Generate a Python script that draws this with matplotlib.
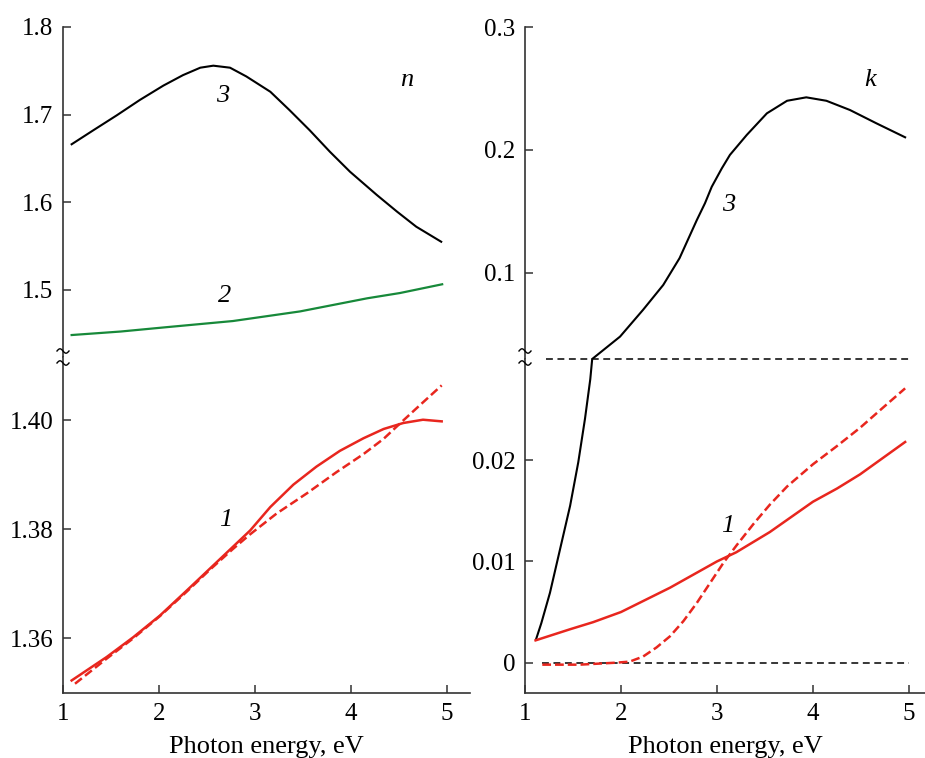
import numpy as np
import matplotlib
matplotlib.use("Agg")
import matplotlib.pyplot as plt
from matplotlib.lines import Line2D

plt.rcParams["font.family"] = ["Liberation Serif", "DejaVu Serif"]

RED = "#e8261e"
GREEN = "#17893a"
SPINE = "#333333"

# ---- refractive index n ----
n3_e = [1.09, 1.316, 1.559, 1.80, 2.045, 2.25, 2.43, 2.566, 2.74, 2.91, 3.16, 3.36, 3.57,
        3.78, 3.99, 4.27, 4.48, 4.68, 4.94]
n3_v = [1.666, 1.682, 1.699, 1.7166, 1.733, 1.745, 1.7535, 1.7558, 1.7535, 1.7435, 1.726,
        1.705, 1.682, 1.6575, 1.6346, 1.608, 1.589, 1.5718, 1.5546]

n2_e = [1.09, 1.6, 2.08, 2.77, 3.47, 4.17, 4.51, 4.95]
n2_v = [1.448, 1.452, 1.457, 1.464, 1.475, 1.490, 1.496, 1.506]

n1_e = [1.09, 1.455, 1.73, 2.01, 2.29, 2.53, 2.77, 2.95, 3.16, 3.40, 3.64, 3.885, 4.13, 4.34,
        4.545, 4.75, 4.945]
n1_v = [1.3523, 1.3566, 1.3602, 1.3642, 1.3688, 1.3728, 1.3768, 1.3798, 1.3841, 1.3882, 1.3915,
        1.3944, 1.3967, 1.3984, 1.3995, 1.4001, 1.3998]

n1d_e = [1.125, 1.455, 1.73, 2.01, 2.29, 2.53, 2.77, 2.95, 3.225, 3.54, 3.85, 4.13, 4.34, 4.51,
         4.72, 4.945]
n1d_v = [1.3517, 1.3563, 1.3600, 1.3641, 1.3686, 1.3726, 1.3764, 1.3791, 1.3829, 1.3866, 1.3905,
         1.3938, 1.3966, 1.3994, 1.4028, 1.4064]

# ---- extinction coefficient k ----
k3_e = [1.115, 1.17, 1.26, 1.365, 1.47, 1.555, 1.625, 1.68, 1.70, 1.99, 2.23, 2.44, 2.61, 2.79,
        2.875, 2.945, 3.05, 3.135, 3.31, 3.52, 3.73, 3.93, 4.14, 4.385, 4.66, 4.96]
k3_v = [0.0023, 0.0039, 0.0069, 0.0112, 0.0155, 0.0198, 0.0241, 0.028, 0.030, 0.0482, 0.070,
        0.0902, 0.112, 0.143, 0.1567, 0.170, 0.185, 0.196, 0.2122, 0.2298, 0.240, 0.2428, 0.240,
        0.2325, 0.2217, 0.2103]

k1_e = [1.11, 1.47, 1.71, 2.0, 2.51, 3.0, 3.2, 3.55, 4.0, 4.25, 4.49, 4.96]
k1_v = [0.0022, 0.0033, 0.0040, 0.0050, 0.0074, 0.0100, 0.0109, 0.0129, 0.0159, 0.0172, 0.0186,
        0.0218]

k1d_e = [1.18, 1.57, 1.955, 2.09, 2.23, 2.37, 2.51, 2.65, 2.79, 2.93, 3.07, 3.205, 3.38, 3.55,
         3.73, 4.0, 4.25, 4.49, 4.73, 4.96]
k1d_v = [-0.0002, -0.0002, 0.0, 0.0001, 0.0006, 0.0015, 0.0026, 0.0041, 0.0059, 0.0079, 0.0099,
         0.0116, 0.0137, 0.0156, 0.0174, 0.0196, 0.0214, 0.0232, 0.0252, 0.0271]

x_ticks = [1, 2, 3, 4, 5]
n_up_ticks = [1.5, 1.6, 1.7, 1.8]
n_up_labels = ["1.5", "1.6", "1.7", "1.8"]
n_lo_ticks = [1.36, 1.38, 1.40]
n_lo_labels = ["1.36", "1.38", "1.40"]
k_up_ticks = [0.1, 0.2, 0.3]
k_up_labels = ["0.1", "0.2", "0.3"]
k_lo_ticks = [0, 0.01, 0.02]
k_lo_labels = ["0", "0.01", "0.02"]

W, H = 925, 758
fig = plt.figure(figsize=(W / 100, H / 100), dpi=100)


def box(x0, x1, y0, y1):
    # pixel box (top-left origin) -> figure fraction
    return [x0 / W, 1 - y1 / H, (x1 - x0) / W, (y1 - y0) / H]


axLU = fig.add_axes(box(63, 470, 27, 357))
axLL = fig.add_axes(box(63, 470, 357, 693))
axRU = fig.add_axes(box(525, 925, 27, 359))
axRL = fig.add_axes(box(525, 925, 359, 693))

for ax in (axLU, axLL, axRU, axRL):
    ax.spines["top"].set_visible(False)
    ax.spines["right"].set_visible(False)
    for s in ("left", "bottom"):
        ax.spines[s].set_color(SPINE)
        ax.spines[s].set_linewidth(1.2)
    ax.tick_params(direction="in", length=6, width=1.1, color=SPINE,
                   labelsize=18, pad=7)

for ax in (axLU, axRU):
    ax.spines["bottom"].set_visible(False)
    ax.tick_params(axis="x", bottom=False, labelbottom=False)

axLU.set_xlim(1, 5.24)
axLL.set_xlim(1, 5.24)
axRU.set_xlim(1, 5.167)
axRL.set_xlim(1, 5.167)

axLU.set_ylim(1.4229, 1.8)
axLL.set_ylim(1.35, 1.4116)
axRU.set_ylim(0.03, 0.3)
axRL.set_ylim(-0.003, 0.03)

axLU.set_yticks(n_up_ticks, n_up_labels)
axLL.set_yticks(n_lo_ticks, n_lo_labels)
axRU.set_yticks(k_up_ticks, k_up_labels)
axRL.set_yticks(k_lo_ticks, k_lo_labels)
axLL.set_xticks(x_ticks, [str(t) for t in x_ticks])
axRL.set_xticks(x_ticks, [str(t) for t in x_ticks])

axLL.set_xlabel("Photon energy, eV", fontsize=19, labelpad=8)
axRL.set_xlabel("Photon energy, eV", fontsize=19, labelpad=8)

# n panel
axLU.plot(n3_e, n3_v, color="black", lw=1.5)
axLU.plot(n2_e, n2_v, color=GREEN, lw=1.6)
axLL.plot(n1_e, n1_v, color=RED, lw=1.8)
axLL.plot(n1d_e, n1d_v, color=RED, lw=1.8, ls=(0, (3.5, 1.6)))

# k panel
axRL.axhline(0.03, xmin=(1.22 - 1) / 4.167, xmax=(5.03 - 1) / 4.167, color="black",
             lw=1.1, ls=(0, (4.5, 3)), clip_on=False)
axRL.axhline(0.0, xmin=(1.18 - 1) / 4.167, xmax=(5.0 - 1) / 4.167, color="black",
             lw=1.1, ls=(0, (4.5, 3)))
axRU.plot(k3_e, k3_v, color="black", lw=1.5)
axRL.plot(k3_e, k3_v, color="black", lw=1.5)
axRL.plot(k1_e, k1_v, color=RED, lw=1.8)
axRL.plot(k1d_e, k1d_v, color=RED, lw=1.8, ls=(0, (3.5, 1.6)))

lab = dict(fontsize=19, style="italic", ha="center", va="center")
axLU.text(2.66, 1.721, "3", **lab)
axLU.text(4.58, 1.739, "n", **lab)
axLU.text(2.68, 1.4926, "2", **lab)
axLL.text(2.69, 1.3817, "1", **lab)
axRU.text(3.125, 0.1553, "3", **lab)
axRU.text(4.6, 0.257, "k", **lab)
axRL.text(3.11, 0.0135, "1", **lab)

# axis break marks on the y spines
t = np.linspace(-1, 1, 30)
for xs in (63, 525):
    for yb in (351, 363):
        xx = (xs + 6 * t) / W
        yy = 1 - (yb + 2.2 * np.sin(np.pi * t)) / H
        fig.add_artist(Line2D(xx, yy, color="black", lw=1.0, transform=fig.transFigure))

fig.savefig("out.png", dpi=100)
